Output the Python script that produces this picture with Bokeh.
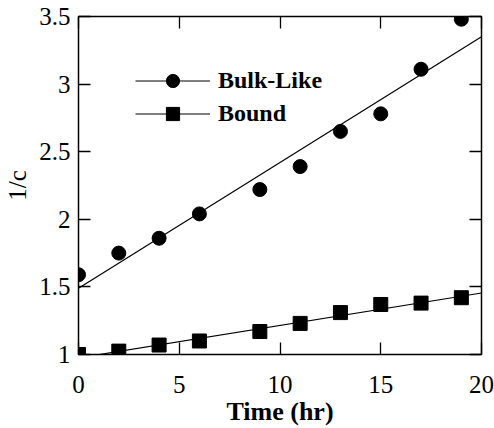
from bokeh.plotting import figure
from bokeh.models import LinearAxis, FixedTicker, Range1d, Legend, LegendItem
from bokeh.embed import file_html
from bokeh.resources import INLINE

# data
time_hr = [0, 2, 4, 6, 9, 11, 13, 15, 17, 19]
bulk_like = [1.59, 1.75, 1.86, 2.04, 2.22, 2.39, 2.65, 2.78, 3.11, 3.48]
bound = [1.00, 1.025, 1.07, 1.10, 1.17, 1.23, 1.31, 1.37, 1.38, 1.42]
fit_x = [0, 20]
bulk_fit = [1.49, 3.35]
bound_fit = [0.975, 1.455]
x_ticks = [0, 5, 10, 15, 20]
x_tick_labels = ["0", "5", "10", "15", "20"]
y_ticks = [1, 1.5, 2, 2.5, 3, 3.5]
y_tick_labels = ["1", "1.5", "2", "2.5", "3", "3.5"]

FONT = "Liberation Serif"

p = figure(width=494, height=428, output_backend="svg", toolbar_location=None,
           x_range=Range1d(0, 20), y_range=Range1d(1, 3.5),
           min_border_left=78, min_border_right=13, min_border_top=16, min_border_bottom=74,
           background_fill_color="white", border_fill_color="white")
p.grid.visible = False
p.outline_line_color = "black"
p.outline_line_width = 1.5


def style_axis(ax, ticks, labels, show_labels=True):
    ax.ticker = FixedTicker(ticks=ticks)
    ax.major_tick_in = 12
    ax.major_tick_out = 0
    ax.major_tick_line_width = 1.3
    ax.major_tick_line_color = "black"
    ax.minor_tick_line_color = None
    ax.axis_line_color = None
    ax.major_label_text_font = FONT
    ax.major_label_text_color = "black"
    if show_labels:
        ax.major_label_overrides = {t: l for t, l in zip(ticks, labels)}
        ax.major_label_text_font_size = "25px"
    else:
        ax.major_label_overrides = {t: "" for t in ticks}
        ax.major_label_text_font_size = "1px"
        ax.major_label_standoff = 0


style_axis(p.xaxis[0], x_ticks, x_tick_labels)
style_axis(p.yaxis[0], y_ticks, y_tick_labels)
p.xaxis[0].major_label_standoff = 21
p.yaxis[0].major_label_standoff = 8

p.xaxis[0].axis_label = "Time (hr)"
p.xaxis[0].axis_label_text_font = FONT
p.xaxis[0].axis_label_text_font_style = "bold"
p.xaxis[0].axis_label_text_font_size = "26px"
p.xaxis[0].axis_label_standoff = 1
p.xaxis[0].axis_label_text_color = "black"

p.yaxis[0].axis_label = "1/c"
p.yaxis[0].axis_label_text_font = FONT
p.yaxis[0].axis_label_text_font_style = "normal"
p.yaxis[0].axis_label_text_font_size = "25px"
p.yaxis[0].axis_label_standoff = 5
p.yaxis[0].axis_label_text_color = "black"

top = LinearAxis()
style_axis(top, x_ticks, x_tick_labels, show_labels=False)
p.add_layout(top, "above")
right = LinearAxis()
style_axis(right, y_ticks, y_tick_labels, show_labels=False)
p.add_layout(right, "right")

l1 = p.line(fit_x, bulk_fit, line_color="black", line_width=1.2)
s1 = p.scatter(time_hr, bulk_like, marker="circle", size=14, fill_color="black", line_color="black")
l2 = p.line(fit_x, bound_fit, line_color="black", line_width=1.2)
s2 = p.scatter(time_hr, bound, marker="square", size=14, fill_color="black", line_color="black")

legend = Legend(items=[LegendItem(label="Bulk-Like", renderers=[l1, s1]),
                       LegendItem(label="Bound", renderers=[l2, s2])],
                location=(57, 224), glyph_width=75, glyph_height=33, spacing=0,
                label_standoff=8, padding=0, margin=0,
                label_text_font=FONT, label_text_font_style="bold",
                label_text_font_size="24px", label_text_color="black",
                border_line_color=None, background_fill_alpha=0)
p.add_layout(legend, "center")

open("out.html", "w").write(file_html(p, INLINE))
